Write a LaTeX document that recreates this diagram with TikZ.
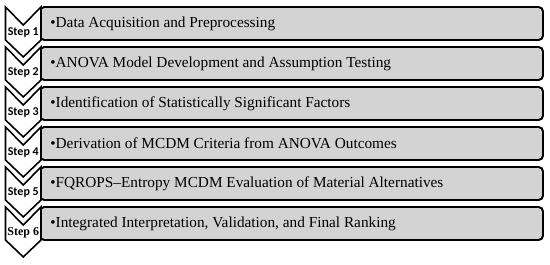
\documentclass[tikz,border=0pt]{standalone}
\usepackage{xcolor}
\usepackage{fontspec}
\setmainfont{Liberation Serif}
\newfontfamily\stepsans{Carlito}
\usepackage{tikz}
\usetikzlibrary{positioning, calc}
\definecolor{stagegray}{RGB}{211,211,211}

\begin{document}
\begin{tikzpicture}[stagebox/.style={draw=black, fill=stagegray, line width=1.1pt, rounded corners=2.5pt},
  chevron/.style={draw=black, fill=white, line width=0.9pt, line join=miter},
  steplabel/.style={font=\stepsans\bfseries\fontsize{6.8}{8}\selectfont, inner sep=0pt},
  stagetext/.style={anchor=west, inner sep=0pt, font=\fontsize{8.7}{10}\selectfont}]
  \useasboundingbox[fill=white] (0,0) rectangle (11,5.28);
  % Row 1
  \draw[stagebox] (0.8,4.48) rectangle (10.86,5.14);
  \draw[chevron] (0.11,5.14) -- (0.465,4.78) -- (0.82,5.14) -- (0.82,4.48) -- (0.465,4.14) -- (0.11,4.48) -- cycle;
  \node[steplabel] (s1) at (0.465,4.63) {Step 1};
  \node[stagetext] (t1) at (1.0,4.81) {•Data Acquisition and Preprocessing};
  % Row 2
  \draw[stagebox] (0.8,3.68) rectangle (10.86,4.34);
  \draw[chevron] (0.11,4.34) -- (0.465,3.98) -- (0.82,4.34) -- (0.82,3.68) -- (0.465,3.34) -- (0.11,3.68) -- cycle;
  \node[steplabel] (s2) at (0.465,3.83) {Step 2};
  \node[stagetext] (t2) at (1.0,4.01) {•ANOVA Model Development and Assumption Testing};
  % Row 3
  \draw[stagebox] (0.8,2.88) rectangle (10.86,3.54);
  \draw[chevron] (0.11,3.54) -- (0.465,3.18) -- (0.82,3.54) -- (0.82,2.88) -- (0.465,2.54) -- (0.11,2.88) -- cycle;
  \node[steplabel] (s3) at (0.465,3.03) {Step 3};
  \node[stagetext] (t3) at (1.0,3.21) {•Identification of Statistically Significant Factors};
  % Row 4
  \draw[stagebox] (0.8,2.08) rectangle (10.86,2.74);
  \draw[chevron] (0.11,2.74) -- (0.465,2.38) -- (0.82,2.74) -- (0.82,2.08) -- (0.465,1.74) -- (0.11,2.08) -- cycle;
  \node[steplabel] (s4) at (0.465,2.23) {Step 4};
  \node[stagetext] (t4) at (1.0,2.41) {•Derivation of MCDM Criteria from ANOVA Outcomes};
  % Row 5
  \draw[stagebox] (0.8,1.28) rectangle (10.86,1.94);
  \draw[chevron] (0.11,1.94) -- (0.465,1.58) -- (0.82,1.94) -- (0.82,1.28) -- (0.465,0.94) -- (0.11,1.28) -- cycle;
  \node[steplabel] (s5) at (0.465,1.43) {Step 5};
  \node[stagetext] (t5) at (1.0,1.61) {•FQROPS–Entropy MCDM Evaluation of Material Alternatives};
  % Row 6
  \draw[stagebox] (0.8,0.48) rectangle (10.86,1.14);
  \draw[chevron] (0.11,1.14) -- (0.465,0.78) -- (0.82,1.14) -- (0.82,0.48) -- (0.465,0.14) -- (0.11,0.48) -- cycle;
  \node[steplabel, font=\rmfamily\bfseries\fontsize{6.8}{8}\selectfont] (s6) at (0.465,0.63) {Step 6};
  \node[stagetext] (t6) at (1.0,0.81) {•Integrated Interpretation, Validation, and Final Ranking};
\end{tikzpicture}
\end{document}
